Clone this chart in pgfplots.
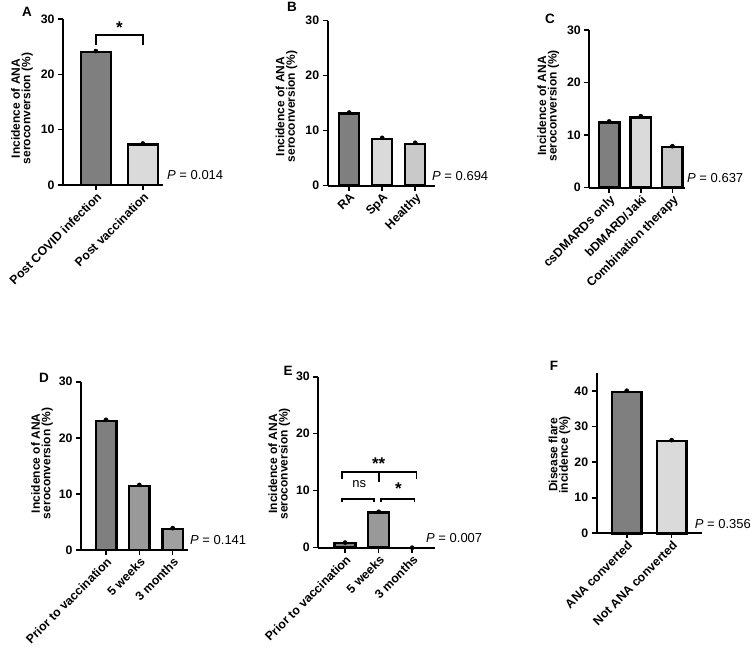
\documentclass[border=0pt]{standalone}
\usepackage{fontspec}
\setmainfont{Liberation Sans}
\usepackage{pgfplots}
\pgfplotsset{compat=1.18}

\definecolor{gA}{HTML}{7F7F7F}
\definecolor{gB}{HTML}{DADADA}
\definecolor{gC}{HTML}{C9C9C9}
\definecolor{gD}{HTML}{999999}
\definecolor{gE}{HTML}{A0A0A0}

\pgfplotsset{
  panel/.style={
    scale only axis,
    anchor=south west,
    axis lines=left,
    axis line style={-, line width=2.1pt},
    ymin=0, ymax=30, ytick={0,10,20,30},
    tick align=outside,
    major tick length=5pt,
    every tick/.style={black, line width=1.6pt},
    /pgf/number format/assume math mode=true,
    y tick label style={font=\fontsize{12.3}{14}\selectfont\bfseries},
    x tick label style={rotate=45, anchor=north east, inner sep=1pt,
      font=\fontsize{12.3}{13}\selectfont\bfseries},
    ylabel={Incidence of ANA\\seroconversion (\%)},
    clip=false,
  },
  % label position: vertical place, and distance left of the axis as a share of its width
  ylab/.style 2 args={ylabel style={at={(rel axis cs:-#2,#1)}, anchor=south,
      inner sep=0pt, align=center,
      font=\fontsize{12}{10.5}\selectfont\bfseries}},
  mybar/.style={ybar, bar shift=0pt, draw=black, line width=2.5pt, fill=#1},
  dot/.style={only marks, mark=*, mark size=2.1pt, black},
}
\tikzset{
  pval/.style={anchor=west, inner sep=0pt, font=\fontsize{13}{14}\selectfont},
  brk/.style={line width=1.7pt},
  star/.style={font=\fontsize{17}{17}\selectfont\bfseries, inner sep=0pt},
  letter/.style={font=\fontsize{13.5}{13}\selectfont\bfseries, inner sep=0pt},
}

\begin{document}
\begin{tikzpicture}
\path[use as bounding box, fill=white] (0pt,0pt) rectangle (755pt,656pt);

% A
\begin{axis}[panel, ylab={0.46}{0.3}, at={(63pt,471pt)}, width=100pt, height=166pt,
  xmin=-0.7, xmax=1.43, xtick={0,1},
  xticklabels={Post COVID infection, Post vaccination}]
  \addplot[mybar=gA, bar width=30pt] coordinates {(0,24.0)};
  \addplot[mybar=gB, bar width=30pt] coordinates {(1,7.3)};
  \addplot[dot] coordinates {(0,24.2) (1,7.5)};
  \draw[brk] (axis cs:0,25.3) -- (axis cs:0,27.1) -- (axis cs:1,27.1) -- (axis cs:1,25.3);
  \node[star] at (axis cs:0.5,28.4) {*};
  \node[pval] at (rel axis cs:1,0) [xshift=4pt, yshift=9.5pt] {\textit{P} = 0.014};
\end{axis}
\node[letter] at (27pt,644pt) {A};

% B
\begin{axis}[panel, ylab={0.48}{0.28}, at={(327.7pt,470.3pt)}, width=107.3pt, height=165pt,
  xmin=-0.65, xmax=2.6, xtick={0,1,2},
  xticklabels={RA, SpA, Healthy}]
  \addplot[mybar=gA, bar width=20pt] coordinates {(0,13.1)};
  \addplot[mybar=gB, bar width=20pt] coordinates {(1,8.5)};
  \addplot[mybar=gC, bar width=20pt] coordinates {(2,7.6)};
  \addplot[dot] coordinates {(0,13.3) (1,8.7) (2,7.8)};
  \node[pval] at (rel axis cs:1,0) [xshift=-3pt, yshift=9.5pt] {\textit{P} = 0.694};
\end{axis}
\node[letter] at (292pt,649pt) {B};

% C
\begin{axis}[panel, ylab={0.52}{0.313}, at={(589.3pt,468.3pt)}, width=95.7pt, height=157.7pt,
  xmin=-0.63, xmax=2.4, xtick={0,1,2},
  xticklabels={csDMARDs only, bDMARD/Jaki, Combination therapy}]
  \addplot[mybar=gA, bar width=20.5pt] coordinates {(0,12.4)};
  \addplot[mybar=gB, bar width=20.5pt] coordinates {(1,13.4)};
  \addplot[mybar=gC, bar width=20.5pt] coordinates {(2,7.7)};
  \addplot[dot] coordinates {(0,12.6) (1,13.6) (2,7.9)};
  \node[pval] at (rel axis cs:1,0) [xshift=2pt, yshift=9.5pt] {\textit{P} = 0.637};
\end{axis}
\node[letter] at (550pt,637pt) {C};

% D
\begin{axis}[panel, ylab={0.515}{0.262}, at={(81pt,106pt)}, width=107pt, height=168.3pt,
  xmin=-0.75, xmax=2.46, xtick={0,1,2},
  xticklabels={Prior to vaccination, 5 weeks, 3 months}]
  \addplot[mybar=gA, bar width=20.5pt] coordinates {(0,23.0)};
  \addplot[mybar=gD, bar width=20.5pt] coordinates {(1,11.4)};
  \addplot[mybar=gE, bar width=20.5pt] coordinates {(2,3.7)};
  \addplot[dot] coordinates {(0,23.2) (1,11.6) (2,3.9)};
  \node[pval] at (rel axis cs:1,0) [xshift=2pt, yshift=9.5pt] {\textit{P} = 0.141};
\end{axis}
\node[letter] at (44pt,278pt) {D};

% E
\begin{axis}[panel, ylab={0.49}{0.24}, at={(318.3pt,108.3pt)}, width=116.7pt, height=171pt,
  xmin=-0.8, xmax=2.68, xtick={0,1,2},
  xticklabels={Prior to vaccination, 5 weeks, 3 months}]
  \addplot[mybar=gA, bar width=21pt] coordinates {(0,0.8)};
  \addplot[mybar=gD, bar width=21pt] coordinates {(1,6.2)};
  \addplot[dot] coordinates {(0,0.9) (1,6.3) (2,0)};
  \draw[brk] (axis cs:-0.1,12.0) -- (axis cs:-0.1,13.3) -- (axis cs:2.13,13.3) -- (axis cs:2.13,12.0);
  \draw[brk] (axis cs:1,13.3) -- (axis cs:1,11.6);
  \draw[brk] (axis cs:-0.1,8.0) -- (axis cs:-0.1,8.5) -- (axis cs:0.87,8.5) -- (axis cs:0.87,8.0);
  \draw[brk] (axis cs:1.07,8.0) -- (axis cs:1.07,8.5) -- (axis cs:2.07,8.5) -- (axis cs:2.07,8.0);
  \node[font=\fontsize{13}{14}\selectfont, inner sep=0pt] at (axis cs:0.42,11.1) {ns};
  \node[star] at (axis cs:1.59,10.4) {*};
  \node[star] at (axis cs:1,14.7) {**};
  \node[pval] at (rel axis cs:1,0) [xshift=-9pt, yshift=9.5pt] {\textit{P} = 0.007};
\end{axis}
\node[letter] at (288pt,285pt) {E};

% F
\begin{axis}[panel, ylab={0.49}{0.248}, at={(596.7pt,122.7pt)}, width=105pt, height=160pt,
  ymax=45, ytick={0,10,20,30,40},
  xmin=-0.67, xmax=1.67, xtick={0,1},
  xticklabels={ANA converted, Not ANA converted},
  ylabel={Disease flare\\incidence (\%)}]
  \addplot[mybar=gA, bar width=29.3pt] coordinates {(0,39.8)};
  \addplot[mybar=gB, bar width=29.3pt] coordinates {(1,25.9)};
  \addplot[dot] coordinates {(0,40.1) (1,26.2)};
  \node[pval] at (rel axis cs:1,0) [xshift=-7pt, yshift=9.5pt] {\textit{P} = 0.356};
\end{axis}
\node[letter] at (554pt,290pt) {F};
\end{tikzpicture}
\end{document}
